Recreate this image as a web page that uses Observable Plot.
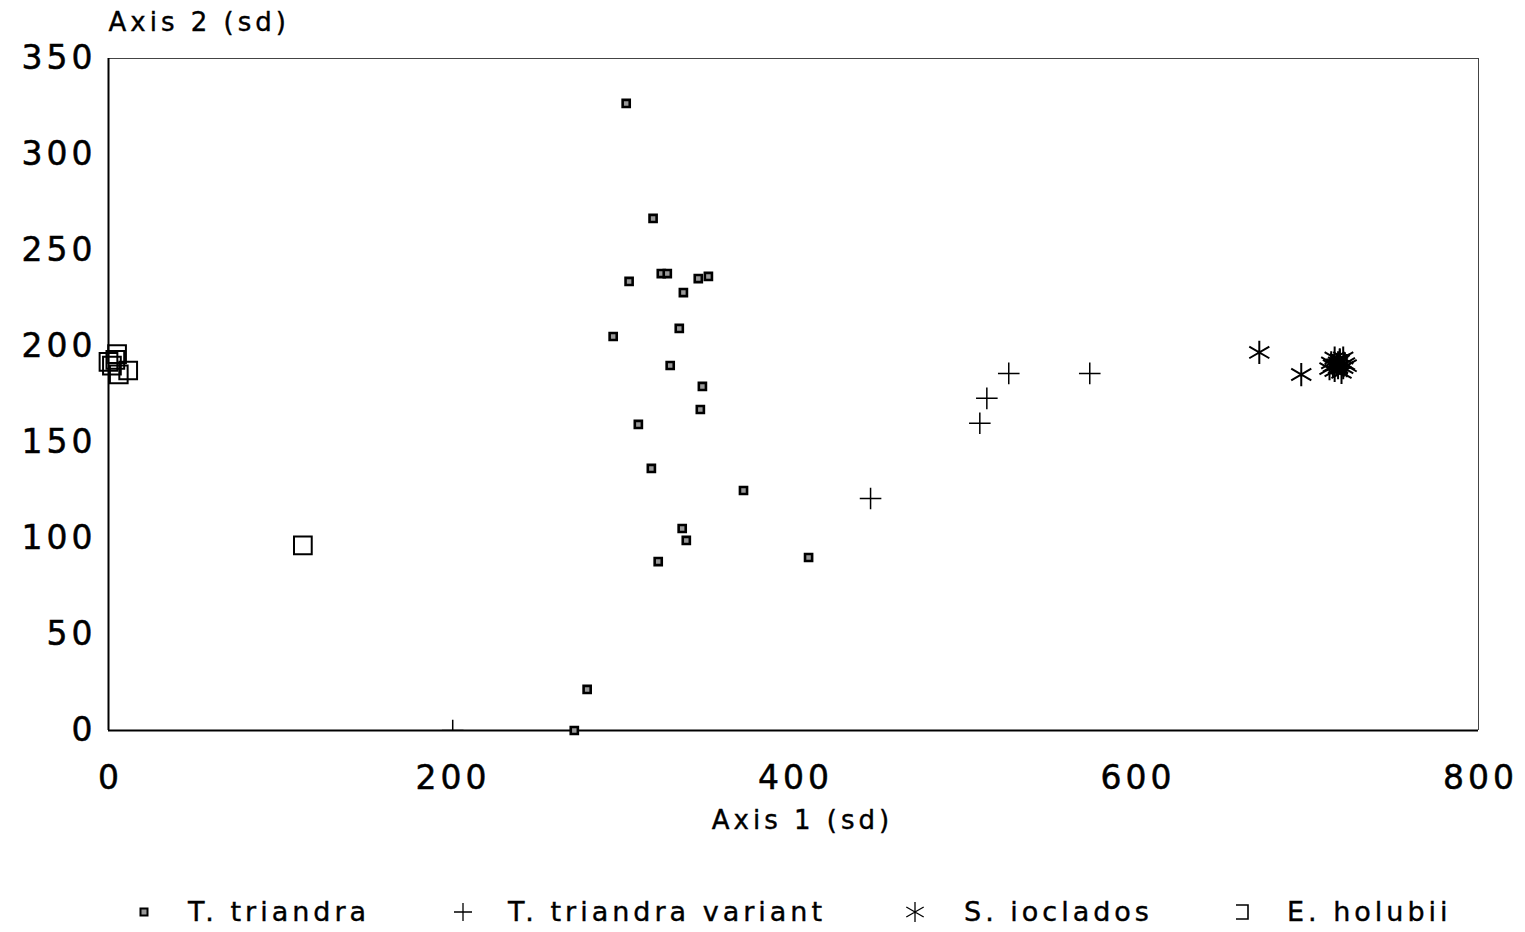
<!DOCTYPE html>
<html><head><meta charset="utf-8">
<script src="https://cdn.jsdelivr.net/npm/d3@7"></script>
<script src="https://cdn.jsdelivr.net/npm/@observablehq/plot@0.6"></script>
<style>
body{margin:0;background:#fff;font-family:"DejaVu Sans",sans-serif;}
#legend{position:relative;height:52px;width:1525px;}
.sym{position:absolute;top:0;}
.lab{position:absolute;top:0;height:52px;line-height:52px;font-size:27px;letter-spacing:4px;color:#000;-webkit-text-stroke:0.4px #000;}
</style></head><body>
<div id="chart"></div>
<div id="legend"></div>
<script>
// T. triandra
const triandraX = [302.3, 318, 304, 322.8, 326.3, 335.7, 344.4, 350.3, 294.7, 333.3, 328, 346.8, 345.6, 309.4, 317, 370.8, 335, 337.4, 321, 408.8, 279.5, 272];
const triandraY = [326.6, 266.7, 233.9, 238, 238, 228.1, 235.4, 236.5, 205.2, 209.4, 190.1, 179.2, 167.2, 159.4, 136.5, 125, 105.2, 99, 88, 90.1, 21.4, 0];
// T. triandra variant
const variantX = [445, 525.7, 573, 512.9, 508.8, 201];
const variantY = [120.8, 186, 186, 173, 160, 0];
// S. ioclados
const iocladosX = [672, 696.5, 715, 718, 721, 716, 719, 722, 714, 718, 723, 716, 720, 721, 713, 717, 719];
const iocladosY = [196.9, 185.4, 190, 191.5, 189, 187.5, 192.5, 191, 191.5, 189, 190, 194, 186.5, 194, 188.5, 190.5, 193];
// E. holubii
const holubiiX = [0, 4, 11.5, 6, 5, 2, 113.5];
const holubiiY = [192, 193, 187.5, 185.5, 196, 190, 96.4];

const xTicks = [0, 200, 400, 600, 800];
const yTicks = [0, 50, 100, 150, 200, 250, 300, 350];
const seriesNames = ["T. triandra", "T. triandra variant", "S. ioclados", "E. holubii"];

const toRows = (xs, ys) => xs.map((x, i) => ({x, y: ys[i]}));
const triandra = toRows(triandraX, triandraY);
const variant = toRows(variantX, variantY);
const ioclados = toRows(iocladosX, iocladosY);
const holubii = toRows(holubiiX, holubiiY);

const chart = Plot.plot({
  width: 1525,
  height: 886,
  marginLeft: 108,
  marginRight: 47,
  marginTop: 58,
  marginBottom: 156,
  style: {fontFamily: '"DejaVu Sans", sans-serif', color: "#000", background: "#fff"},
  x: {domain: [0, 800]},
  y: {domain: [0, 350]},
  marks: [
    Plot.ruleY([350], {stroke: "#444", strokeWidth: 1}),
    Plot.ruleX([800], {stroke: "#444", strokeWidth: 1}),
    Plot.ruleX([0], {stroke: "#000", strokeWidth: 2}),
    Plot.ruleY([0], {stroke: "#000", strokeWidth: 2}),
    Plot.axisX({ticks: xTicks, tickSize: 0, tickPadding: 35, fontSize: 33, label: null, tickFormat: d => String(d)}),
    Plot.axisY({ticks: yTicks, tickSize: 0, tickPadding: 12, fontSize: 33, label: null, tickFormat: d => String(d)}),
    Plot.text(["Axis 1 (sd)"], {frameAnchor: "bottom", lineAnchor: "middle", dy: 90, dx: 9, fontSize: 26, fill: "#000"}),
    Plot.text(["Axis 2 (sd)"], {frameAnchor: "top-left", lineAnchor: "middle", textAnchor: "start", dy: -36, dx: 0, fontSize: 26, fill: "#000"}),
    Plot.dot(holubii, {x: "x", y: "y", symbol: "square", r: 10, fill: "none", stroke: "#000", strokeWidth: 2}),
    Plot.dot(triandra, {x: "x", y: "y", symbol: "square", r: 4, fill: "#999", stroke: "#000", strokeWidth: 2.6}),
    Plot.dot(variant, {x: "x", y: "y", symbol: "plus", r: 7, stroke: "#000", strokeWidth: 1.5, clip: true}),
    Plot.dot(ioclados, {x: "x", y: "y", symbol: "asterisk", r: 11, stroke: "#000", strokeWidth: 2})
  ]
});
document.getElementById("chart").appendChild(chart);
const svg = d3.select(chart);
svg.selectAll('g[aria-label="y-axis tick label"] text').style("letter-spacing", "4px").style("stroke", "#000").style("stroke-width", "0.5px");
svg.selectAll('g[aria-label="x-axis tick label"] text').style("letter-spacing", "4px").style("stroke", "#000").style("stroke-width", "0.5px").attr("dx", 2);
svg.selectAll('g[aria-label="text"] text').style("letter-spacing", "4px").style("stroke", "#000").style("stroke-width", "0.4px");

// legend
const legend = d3.select("#legend");
const symX = [144, 463, 915, 1243];
const labX = [188, 508, 964, 1287];
const symbolsSvg = [
  '<rect x="6.5" y="6.5" width="7" height="7" fill="#999" stroke="#000" stroke-width="2"/>',
  '<path d="M10 1V19M1 10H19" stroke="#000" stroke-width="1.3"/>',
  '<path d="M10 0V20M1.3 5L18.7 15M1.3 15L18.7 5" stroke="#000" stroke-width="1.3"/>',
  '<path d="M3 3H15V17H3" fill="none" stroke="#000" stroke-width="1.6"/>'
];
seriesNames.forEach((name, i) => {
  legend.append("div").attr("class", "sym").style("left", (symX[i] - 10) + "px").style("top", "16px")
    .html(`<svg width="20" height="20">${symbolsSvg[i]}</svg>`);
  legend.append("div").attr("class", "lab").style("left", labX[i] + "px").text(name);
});
</script>
</body></html>
